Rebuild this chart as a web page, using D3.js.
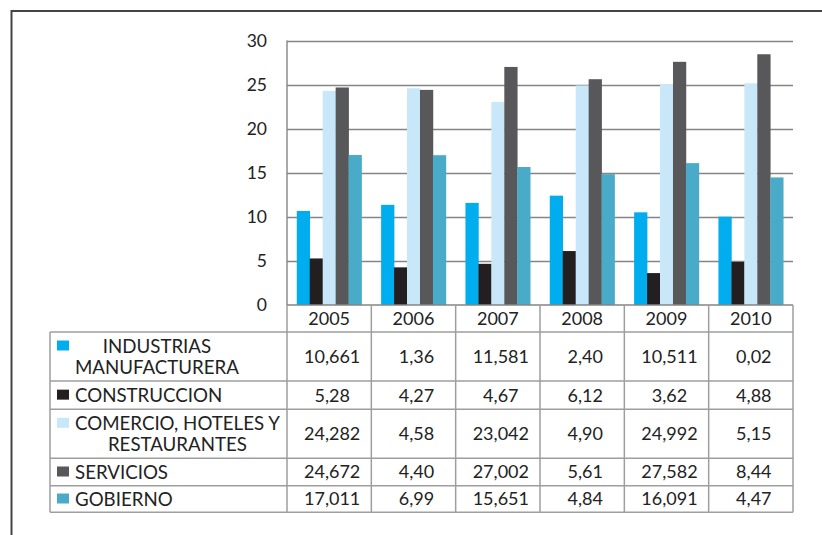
<!DOCTYPE html>
<html><head><meta charset="utf-8">
<script src="https://cdn.jsdelivr.net/npm/d3@7"></script>
<style>body{margin:0;background:#fff;} svg{display:block;}</style>
</head><body>
<svg id="c" width="822" height="535"></svg>
<script>
// ---- data ----
const years = ["2005","2006","2007","2008","2009","2010"];
const seriesNames = ["INDUSTRIAS MANUFACTURERA","CONSTRUCCION","COMERCIO, HOTELES Y RESTAURANTES","SERVICIOS","GOBIERNO"];
const seriesLines = [["INDUSTRIAS","MANUFACTURERA"],["CONSTRUCCION"],["COMERCIO, HOTELES Y","RESTAURANTES"],["SERVICIOS"],["GOBIERNO"]];
const industrias   = [10.661, 11.36, 11.581, 12.40, 10.511, 10.02];
const construccion = [5.28, 4.27, 4.67, 6.12, 3.62, 4.88];
const comercio     = [24.282, 24.58, 23.042, 24.90, 24.992, 25.15];
const servicios    = [24.672, 24.40, 27.002, 25.61, 27.582, 28.44];
const gobierno     = [17.011, 16.99, 15.651, 14.84, 16.091, 14.47];
// table text as printed
const tableIndustrias   = ["10,661","1,36","11,581","2,40","10,511","0,02"];
const tableConstruccion = ["5,28","4,27","4,67","6,12","3,62","4,88"];
const tableComercio     = ["24,282","4,58","23,042","4,90","24,992","5,15"];
const tableServicios    = ["24,672","4,40","27,002","5,61","27,582","8,44"];
const tableGobierno     = ["17,011","6,99","15,651","4,84","16,091","4,47"];
const yTicks = [0,5,10,15,20,25,30];
const colors = ["#00aeef","#231f20","#c8e8fa","#58585a","#4aabc8"];

const values = [industrias, construccion, comercio, servicios, gobierno];
const tableText = [tableIndustrias, tableConstruccion, tableComercio, tableServicios, tableGobierno];

const svg = d3.select("#c");
const FONT = "Lato, 'Open Sans', sans-serif";
const TXT = "#222";

// outer frame
svg.append("line").attr("x1",11.5).attr("x2",822).attr("y1",11).attr("y2",11).attr("stroke","#444").attr("stroke-width",2);
svg.append("line").attr("x1",11.5).attr("x2",11.5).attr("y1",10).attr("y2",535).attr("stroke","#444").attr("stroke-width",2);

const L = 287, R = 793, T = 40.5, B = 305;
const x = d3.scaleBand().domain(years).range([L,R]).paddingInner(0.232).paddingOuter(0.116);
const xs = d3.scaleBand().domain(d3.range(5)).range([0,x.bandwidth()]);
const y = d3.scaleLinear().domain([0,30]).range([B,T]);

// gridlines
svg.append("g").selectAll("line").data(yTicks.filter(d=>d>0)).join("line")
  .attr("x1",L).attr("x2",R).attr("y1",d=>Math.round(y(d))+0.5).attr("y2",d=>Math.round(y(d))+0.5)
  .attr("stroke","#858585").attr("stroke-width",1.4);

// y axis
const yAxis = d3.axisLeft(y).tickValues(yTicks).tickSize(0).tickPadding(20);
const ga = svg.append("g").attr("transform",`translate(${L},0)`).call(yAxis);
ga.select(".domain").remove();
ga.selectAll("text").attr("font-family",FONT).attr("font-size",17.5).attr("fill",TXT).attr("dy","0.34em");

// bars
values.forEach((vals,si)=>{
  svg.append("g").selectAll("rect").data(vals).join("rect")
    .attr("x",(d,i)=>x(years[i])+xs(si))
    .attr("width",xs.bandwidth()+0.3)
    .attr("y",d=>y(d)).attr("height",d=>B-y(d))
    .attr("fill",colors[si]);
});

// axis line left
svg.append("line").attr("x1",L).attr("x2",L).attr("y1",T).attr("y2",B).attr("stroke","#858585").attr("stroke-width",1.4);

// ---- table ----
const rowB = [305, 332, 381, 409.3, 458.3, 485.7, 512.3];
const tableLeft = 50;
const colEdges = years.map(yr=>x(yr)-x.step()*0.116).concat([R]);
const gridC = "#9e9e9e";
const tg = svg.append("g");
rowB.forEach((yy,i)=>{
  tg.append("line").attr("x1", i===0? L : tableLeft).attr("x2",R).attr("y1",yy).attr("y2",yy)
    .attr("stroke", i===0? "#858585": gridC).attr("stroke-width",1.5);
});
colEdges.forEach(cx=>{
  tg.append("line").attr("x1",cx).attr("x2",cx).attr("y1",rowB[0]).attr("y2",rowB[6]).attr("stroke",gridC).attr("stroke-width",1.5);
});
tg.append("line").attr("x1",tableLeft).attr("x2",tableLeft).attr("y1",rowB[1]).attr("y2",rowB[6]).attr("stroke",gridC).attr("stroke-width",1.5);

// year headers
tg.selectAll("text.yr").data(years).join("text").attr("class","yr")
  .attr("x",d=>x(d)+x.bandwidth()/2).attr("y",(rowB[0]+rowB[1])/2).attr("dy","0.36em")
  .attr("text-anchor","middle").attr("font-family",FONT).attr("font-size",18).attr("fill",TXT).text(d=>d);

// rows
seriesLines.forEach((lines,si)=>{
  const top = rowB[si+1], bot = rowB[si+2], mid = (top+bot)/2;
  const lh = 21;
  const firstY = mid - (lines.length-1)*lh/2;
  tg.append("rect").attr("x",57).attr("y",firstY-5.5).attr("width",12).attr("height",10).attr("fill",colors[si]);
  const texts = lines.map((ln,li)=>tg.append("text").attr("x",75).attr("y",firstY+li*lh).attr("dy","0.36em")
      .attr("font-family",FONT).attr("font-size",18.7).attr("fill",TXT).text(ln));
  if(lines.length>1){
    const widths = texts.map(t=>t.node().getComputedTextLength());
    const maxW = d3.max(widths);
    texts.forEach((t,i)=>t.attr("x",75+maxW/2).attr("text-anchor","middle"));
  }
  tableText[si].forEach((v,i)=>{
    tg.append("text").attr("x",x(years[i])+x.bandwidth()/2+3).attr("y",mid).attr("dy","0.36em")
      .attr("text-anchor","middle").attr("font-family",FONT).attr("font-size",18).attr("fill",TXT).text(v);
  });
});
</script>
</body></html>
